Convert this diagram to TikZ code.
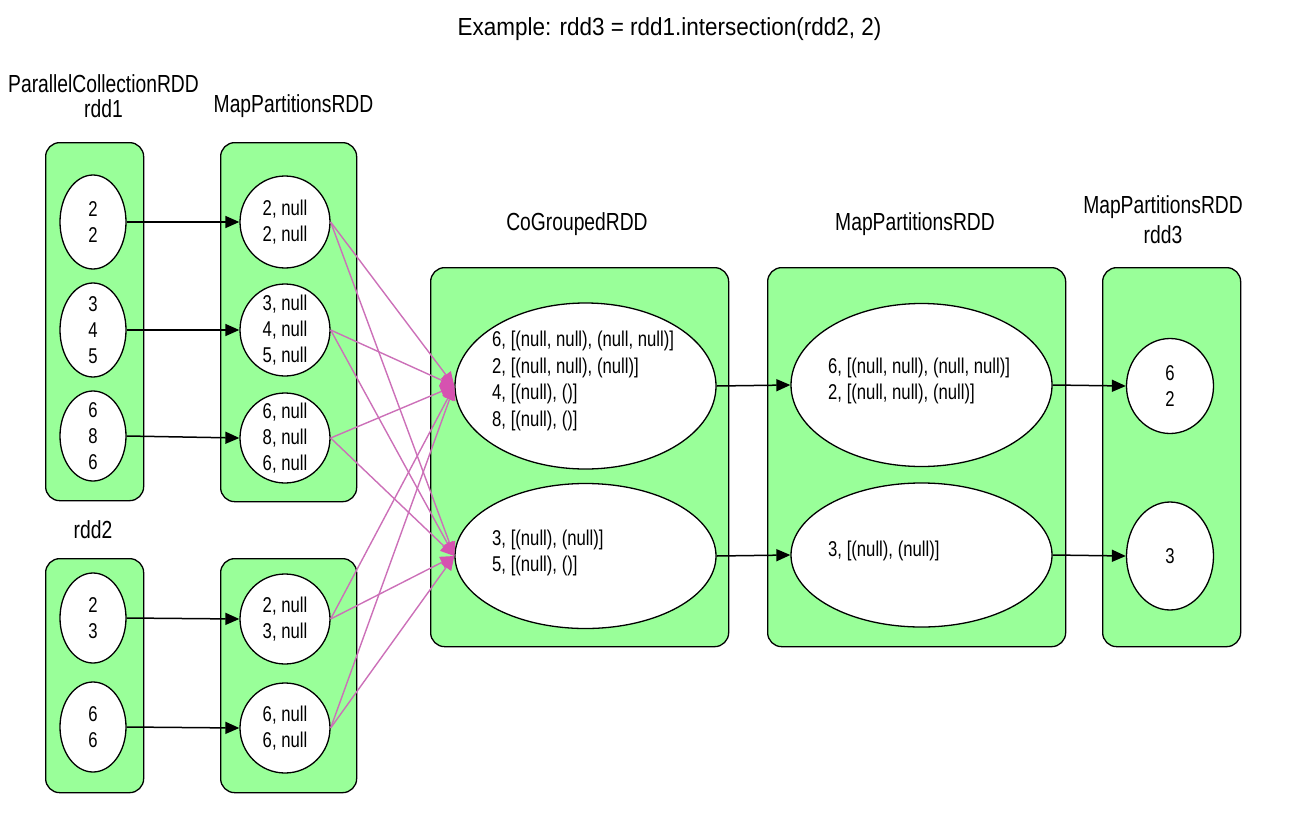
\documentclass[tikz,border=0pt]{standalone}
\usepackage{fontspec}
\setmainfont{Liberation Sans}[FakeStretch=0.78]
\newfontfamily\titlefont{Liberation Sans}[FakeStretch=0.91]
\usetikzlibrary{shapes.geometric,arrows.meta}

\definecolor{rddgreen}{RGB}{153,255,153}
\definecolor{shufline}{RGB}{204,112,184}
\definecolor{shufhead}{RGB}{214,82,176}

\tikzset{
  rddbox/.style={draw=black, line width=1.3pt, fill=rddgreen, rounded corners=14pt,
                 anchor=north west, inner sep=0pt},
  part/.style={draw=black, line width=1.3pt, fill=white, ellipse, inner sep=0pt},
  parttext/.style={font=\fontsize{21.4}{26}\selectfont, align=center, inner sep=0pt},
  listtext/.style={font=\fontsize{21.4}{26.5}\selectfont, align=left, inner sep=0pt, anchor=west},
  heading/.style={font=\fontsize{24.7}{#1}\selectfont, align=center, inner sep=0pt},
  heading/.default=30,
  flow/.style={line width=1.5pt, -{Triangle[length=14pt,width=12pt]}},
  shuffle/.style={draw=shufline, line width=1.4pt, -{Triangle[length=14pt,width=12pt,color=shufhead]}},
}

\begin{document}
\begin{tikzpicture}[x=1pt,y=-1pt]
\useasboundingbox (0,0) rectangle (1303,819);

% title and RDD headings
\node[font=\titlefont\fontsize{24.7}{30}\selectfont, anchor=base, inner sep=0pt] (title)
  at (669.5,35) {Example: rdd3 = rdd1.intersection(rdd2, 2)};
\node[heading=25.5, anchor=north] (h-rdd1) at (103.5,74) {ParallelCollectionRDD\\rdd1};
\node[heading, anchor=base] (h-map1) at (293.5,112) {MapPartitionsRDD};
\node[heading, anchor=base] (h-rdd2) at (93,538) {rdd2};
\node[heading, anchor=base] (h-cg) at (577,230) {CoGroupedRDD};
\node[heading, anchor=base] (h-map3) at (915,230) {MapPartitionsRDD};
\node[heading=30, anchor=north] (h-rdd3) at (1163,195.5) {MapPartitionsRDD\\rdd3};

% RDD containers
\node[rddbox, minimum width=98pt,  minimum height=358pt] (b-rdd1) at (45,142) {};
\node[rddbox, minimum width=136pt, minimum height=359pt] (b-map1) at (220,142) {};
\node[rddbox, minimum width=98pt,  minimum height=234pt] (b-rdd2) at (45,558) {};
\node[rddbox, minimum width=136pt, minimum height=234pt] (b-map2) at (220,558) {};
\node[rddbox, minimum width=298pt, minimum height=379pt] (b-cg)   at (430,267) {};
\node[rddbox, minimum width=298pt, minimum height=379pt] (b-map3) at (767,267) {};
\node[rddbox, minimum width=138pt, minimum height=379pt] (b-rdd3) at (1102,267) {};

% rdd1 partitions
\node[part, minimum width=66pt, minimum height=94pt] (r1a) at (93,222) {};
\node[part, minimum width=66pt, minimum height=94pt] (r1b) at (93,330) {};
\node[part, minimum width=66pt, minimum height=90pt] (r1c) at (93,436) {};
\node[parttext] (r1a-t) at (r1a) {2\\2};
\node[parttext] (r1b-t) at (r1b) {3\\4\\5};
\node[parttext] (r1c-t) at (r1c) {6\\8\\6};

% rdd2 partitions
\node[part, minimum width=66pt, minimum height=90pt] (r2a) at (93,618) {};
\node[part, minimum width=66pt, minimum height=90pt] (r2b) at (93,727) {};
\node[parttext] (r2a-t) at (r2a) {2\\3};
\node[parttext] (r2b-t) at (r2b) {6\\6};

% map over rdd1
\node[part, minimum width=90pt, minimum height=92pt] (m1a) at (285,222) {};
\node[part, minimum width=90pt, minimum height=92pt] (m1b) at (285,330) {};
\node[part, minimum width=90pt, minimum height=90pt] (m1c) at (285,438) {};
\node[parttext] (m1a-t) at (m1a) {2, null\\2, null};
\node[parttext] (m1b-t) at (m1b) {3, null\\4, null\\5, null};
\node[parttext] (m1c-t) at (m1c) {6, null\\8, null\\6, null};

% map over rdd2
\node[part, minimum width=90pt, minimum height=90pt] (m2a) at (285,619) {};
\node[part, minimum width=90pt, minimum height=90pt] (m2b) at (285,728) {};
\node[parttext] (m2a-t) at (m2a) {2, null\\3, null};
\node[parttext] (m2b-t) at (m2b) {6, null\\6, null};

% cogrouped partitions
\node[part, minimum width=261pt, minimum height=166pt] (cg1) at (585.5,386) {};
\node[part, minimum width=261pt, minimum height=145pt] (cg2) at (585.5,556) {};
\node[listtext] (cg1-t) at (492,381) {6, [(null, null), (null, null)]\\2, [(null, null), (null)]\\4, [(null), ()]\\8, [(null), ()]};
\node[listtext] (cg2-t) at (492,553) {3, [(null), (null)]\\5, [(null), ()]};

% filtered partitions
\node[part, minimum width=261pt, minimum height=163pt] (mp1) at (921.5,385) {};
\node[part, minimum width=261pt, minimum height=144pt] (mp2) at (921.5,555) {};
\node[listtext] (mp1-t) at (828,381) {6, [(null, null), (null, null)]\\2, [(null, null), (null)]};
\node[listtext] (mp2-t) at (828,551) {3, [(null), (null)]};

% rdd3 partitions
\node[part, minimum width=87pt, minimum height=95pt]  (r3a) at (1170,386) {};
\node[part, minimum width=87pt, minimum height=108pt] (r3b) at (1170,556) {};
\node[parttext] (r3a-t) at (r3a) {6\\2};
\node[parttext] (r3b-t) at (r3b) {3};

% narrow dependencies
\draw[flow] (r1a.east) -- (m1a.west);
\draw[flow] (r1b.east) -- (m1b.west);
\draw[flow] (r1c.east) -- (m1c.west);
\draw[flow] (r2a.east) -- (m2a.west);
\draw[flow] (r2b.east) -- (m2b.west);
\draw[flow] (cg1.east) -- (mp1.west);
\draw[flow] (cg2.east) -- (mp2.west);
\draw[flow] (mp1.east) -- (r3a.west);
\draw[flow] (mp2.east) -- (r3b.west);

% shuffle dependencies
\foreach \s in {m1a,m1b,m1c,m2a,m2b}
  \foreach \t in {cg1,cg2}
    \draw[shuffle] (\s.east) -- (\t.west);

\end{tikzpicture}
\end{document}
